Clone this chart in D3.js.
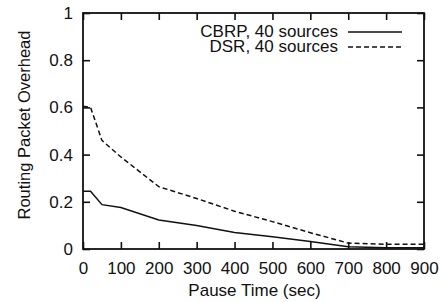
<!DOCTYPE html>
<html>
<head>
<meta charset="utf-8">
<script src="https://cdn.jsdelivr.net/npm/d3@7"></script>
<style>
  body { margin: 0; background: #fff; }
  text { font-family: "Liberation Sans", Arial, sans-serif; fill: #111; }
</style>
</head>
<body>
<div class="chart"></div>
<script>
// Routing overhead vs pause time
var pauseTimes = [0, 20, 50, 100, 200, 300, 400, 500, 600, 700, 800, 900];
var cbrp = [0.245, 0.245, 0.188, 0.176, 0.123, 0.100, 0.070, 0.052, 0.032, 0.010, 0.005, 0.005];
var dsr = [0.605, 0.60, 0.46, 0.39, 0.264, 0.214, 0.160, 0.116, 0.069, 0.025, 0.020, 0.020];
var xTicks = [0, 100, 200, 300, 400, 500, 600, 700, 800, 900];
var yTicks = [0, 0.2, 0.4, 0.6, 0.8, 1];
var seriesNames = ["CBRP, 40 sources", "DSR, 40 sources"];

var svgWidth = 440;
var svgHeight = 302;
var margin = { top: 13, right: 16, bottom: 53, left: 83 };
var width = svgWidth - margin.left - margin.right;
var height = svgHeight - margin.top - margin.bottom;

var svg = d3.select(".chart")
  .append("svg")
  .attr("width", svgWidth)
  .attr("height", svgHeight);

var chartGroup = svg.append("g")
  .attr("transform", `translate(${margin.left}, ${margin.top})`);

var xScale = d3.scaleLinear().domain([0, 900]).range([0, width]);
var yScale = d3.scaleLinear().domain([0, 1]).range([height, 0]);

// axes with inward ticks, mirrored on top and right
var tickLen = 7;
var bottomAxis = d3.axisBottom(xScale).tickValues(xTicks).tickSizeInner(-tickLen).tickSizeOuter(0).tickPadding(13);
var leftAxis = d3.axisLeft(yScale).tickValues(yTicks).tickSizeInner(-tickLen).tickSizeOuter(0).tickPadding(10)
  .tickFormat(d3.format("~g"));
var topAxis = d3.axisTop(xScale).tickValues(xTicks).tickSizeInner(-tickLen).tickSizeOuter(0).tickFormat("");
var rightAxis = d3.axisRight(yScale).tickValues(yTicks).tickSizeInner(-tickLen).tickSizeOuter(0).tickFormat("");

function styleAxis(g) {
  g.select(".domain").remove();
  g.selectAll("line").attr("stroke", "#111").attr("stroke-width", 1.6);
  g.selectAll("text").attr("font-size", 17).style("font-family", "'Liberation Sans', Arial, sans-serif").attr("fill", "#111");
}

chartGroup.append("g").attr("transform", `translate(0, ${height})`).call(bottomAxis).call(styleAxis);
chartGroup.append("g").call(leftAxis).call(styleAxis);
chartGroup.append("g").call(topAxis).call(styleAxis);
chartGroup.append("g").attr("transform", `translate(${width}, 0)`).call(rightAxis).call(styleAxis);

// frame
chartGroup.append("rect")
  .attr("width", width)
  .attr("height", height)
  .attr("fill", "none")
  .attr("stroke", "#111")
  .attr("stroke-width", 1.8);

// lines
var line = d3.line()
  .x((d, i) => xScale(pauseTimes[i]))
  .y(d => yScale(d));

chartGroup.append("path")
  .datum(cbrp)
  .attr("d", line)
  .attr("fill", "none")
  .attr("stroke", "#111")
  .attr("stroke-width", 1.5);

chartGroup.append("path")
  .datum(dsr)
  .attr("d", line)
  .attr("fill", "none")
  .attr("stroke", "#111")
  .attr("stroke-width", 1.5)
  .attr("stroke-dasharray", "5,3");

// legend
var legend = chartGroup.append("g").attr("transform", `translate(${width - 86}, 0)`);
seriesNames.forEach(function (name, i) {
  var y = 18 + i * 15;
  legend.append("text")
    .attr("x", 0)
    .attr("y", y)
    .attr("dy", "0.35em")
    .attr("text-anchor", "end")
    .attr("font-size", 17)
    .text(name);
  legend.append("line")
    .attr("x1", 10).attr("x2", 64)
    .attr("y1", y + 1).attr("y2", y + 1)
    .attr("stroke", "#111")
    .attr("stroke-width", 1.5)
    .attr("stroke-dasharray", i === 1 ? "5,3" : null);
});

// axis labels
chartGroup.append("text")
  .attr("transform", "rotate(-90)")
  .attr("x", -112)
  .attr("y", 0 - margin.left + 30)
  .attr("text-anchor", "middle")
  .attr("font-size", 16.5)
  .text("Routing Packet Overhead");

chartGroup.append("text")
  .attr("x", width / 2 + 1)
  .attr("y", height + 47)
  .attr("text-anchor", "middle")
  .attr("font-size", 17)
  .text("Pause Time (sec)");
</script>
</body>
</html>
